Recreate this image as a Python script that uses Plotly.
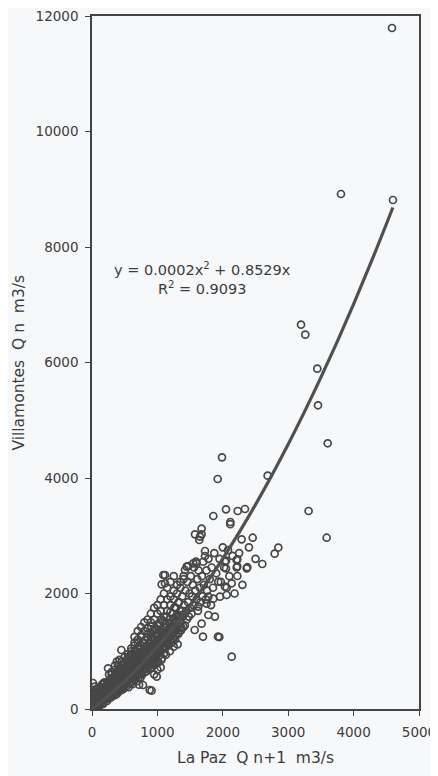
import plotly.graph_objects as go

# La Paz Q n+1 (m3/s) and Villamontes Q n (m3/s)
# sparse / scattered points
lapaz_q = [
    5, 12, 20, 25, 30, 35, 40, 45, 50, 55, 60, 65, 70, 75, 80, 85, 90, 95, 100, 105,
    110, 115, 120, 125, 130, 135, 140, 145, 150, 155, 160, 165, 170, 175, 180, 185, 190, 195, 200,
    15, 41, 60, 10, 20, 8, 30, 50, 70, 90, 110, 130, 150, 170, 190,
    205, 210, 220, 225, 230, 240, 245, 250, 255, 260, 270, 275, 280, 290, 295, 300, 305, 310,
    320, 325, 330, 340, 345, 350, 355, 360, 370, 375, 380, 390, 395, 400, 405, 410, 420, 425,
    430, 440, 445, 450, 455, 460, 470, 475, 480, 490, 495, 500, 245, 300, 350, 420, 449, 380,
    260, 250, 320, 380, 430, 480,
    505, 510, 520, 525, 530, 540, 545, 550, 555, 560, 570, 575, 580, 590, 595, 600, 605, 610,
    620, 625, 630, 640, 645, 650, 655, 660, 670, 675, 680, 690, 695, 700, 705, 710, 720, 725,
    730, 740, 745, 750, 755, 760, 770, 775, 780, 780, 790, 795, 800, 754, 650, 600, 700, 560,
    620, 680, 740, 720,
    805, 810, 820, 825, 830, 840, 845, 850, 855, 860, 870, 875, 880, 882, 890, 895, 900, 905,
    907, 910, 911, 920, 925, 930, 940, 945, 950, 955, 960, 970, 975, 980, 990, 995, 1000, 1005,
    1010, 1020, 1025, 1030, 1040, 1045, 1050, 1060, 1065, 1070, 1080, 1085, 1090, 1100, 1100,
    950, 1000, 1050, 990,
    1116, 1065, 1110, 1120, 1130, 1140, 1150, 1160, 1170, 1180, 1190, 1200, 1210, 1220, 1230,
    1240, 1250, 1260, 1270, 1280, 1290, 1300, 1310, 1320, 1330, 1340, 1350, 1360, 1370, 1380,
    1390, 1400, 1410, 1420, 1422, 1430, 1440, 1450, 1460, 1470, 1473, 1480, 1490, 1500,
    1091, 1448, 1549, 1600, 1116,
    1510, 1520, 1530, 1540, 1550, 1560, 1570, 1575, 1580, 1590, 1600, 1610, 1620, 1630, 1641,
    1650, 1660, 1676, 1676, 1680, 1690, 1697, 1700, 1710, 1728, 1728, 1740, 1750, 1760, 1780,
    1800, 1820, 1830, 1855, 1850, 1870, 1880, 1900, 1922, 1927, 1947, 1950, 1970, 1988, 2000,
    1651, 1625, 1752, 1779, 1676, 1779, 1855, 1957, 2059, 1931, 2034, 2136,
    2020, 2049, 2049, 2049, 2060, 2080, 2100, 2115, 2115, 2136, 2150, 2180, 2222, 2222, 2222,
    2228, 2250, 2288, 2300, 2339, 2375, 2400, 2457, 2500, 2604, 2686, 2793, 2849, 2034, 2212,
    2212, 2365,
    3196, 3262, 3312, 3445, 3456, 3588, 3604, 3807, 4587, 4602,
]
villamontes_q = [
    10, 30, 15, 60, 40, 90, 20, 110, 70, 150, 45, 120, 95, 180, 60, 140, 200, 110, 85, 170,
    240, 130, 100, 210, 160, 280, 120, 230, 190, 300, 150, 260, 210, 330, 170, 250, 380, 220, 290,
    450, 386, 330, 200, 250, 120, 180, 260, 300, 350, 320, 380, 420, 440, 460,
    180, 330, 260, 400, 220, 350, 300, 450, 240, 390, 320, 500, 270, 420, 360, 310, 520, 250,
    460, 380, 290, 560, 410, 340, 480, 300, 600, 450, 380, 520, 330, 430, 650, 360, 560, 480,
    400, 700, 520, 420, 610, 370, 540, 760, 460, 640, 410, 560, 705, 640, 750, 850, 1022, 820,
    600, 180, 230, 260, 320, 350,
    720, 480, 620, 820, 440, 560, 700, 900, 500, 650, 780, 470, 600, 860, 700, 540, 950, 640,
    760, 520, 880, 700, 1000, 600, 820, 560, 740, 920, 650, 1050, 800, 580, 700, 880, 980, 650,
    760, 1100, 850, 620, 720, 940, 1150, 800, 416, 680, 1020, 880, 740, 1281, 1150, 1050, 1200, 380,
    430, 480, 540, 420,
    1000, 640, 1200, 860, 760, 1080, 920, 700, 1300, 820, 980, 1150, 760, 329, 1050, 880, 1250, 960,
    1425, 720, 317, 1100, 830, 1350, 1000, 900, 1200, 780, 1080, 1400, 950, 860, 1150, 1300, 1020, 800,
    1250, 1480, 920, 1100, 1350, 980, 1200, 850, 1550, 1050, 1300, 1150, 1420, 960, 1600,
    600, 680, 720, 560,
    2320, 2159, 1250, 1050, 1480, 1150, 1700, 1350, 1100, 1550, 1250, 1800, 1400, 1150, 1650,
    1300, 1900, 1500, 1200, 1750, 1400, 2000, 1600, 1300, 1850, 1500, 2100, 1700, 1400, 1950,
    1600, 2250, 1800, 1450, 2407, 2050, 1700, 1550, 2200, 1850, 2476, 1600, 2000, 1750,
    2320, 2464, 2522, 2522, 2177,
    2300, 1650, 1950, 2150, 1800, 2450, 1368, 3024, 2050, 2551, 1900, 2250, 1700, 2400, 2926,
    2100, 1850, 3123, 3024, 2300, 1950, 1252, 2550, 2150, 2736, 2649, 1900, 2400, 2050, 2600,
    2250, 1800, 2450, 3342, 2100, 2700, 1600, 2350, 3983, 1252, 1246, 2600, 2200, 4358, 2800,
    2984, 1772, 1825, 1628, 1478, 1945, 1911, 1945, 1974, 2205, 2118, 2177,
    2450, 3457, 2568, 2436, 2100, 2750, 2300, 3238, 3200, 906, 2650, 2000, 2592, 2470, 2303,
    3429, 2700, 2938, 2150, 3463, 2455, 2800, 2966, 2600, 2511, 4040, 2690, 2796, 2551, 2580,
    2450, 2436,
    6655, 6482, 3429, 5893, 5259, 2966, 4601, 8918, 11792, 8814,
]

# dense core of the cloud (x < 1400), read as closely as the dark mass allows
core_lapaz_q = [
    20, 40, 60, 80, 100, 120, 140, 160, 180, 200, 220, 240, 260, 280, 300, 320, 340, 360, 380, 400,
    420, 440, 460, 480, 500, 520, 540, 560, 580, 600, 620, 640, 660, 680, 700, 720, 740, 760, 780, 800,
    820, 840, 860, 880, 900, 920, 940, 960, 980, 1000, 1020, 1040, 1060, 1080, 1100, 1120, 1140, 1160,
    1180, 1200, 1220, 1240, 1260, 1280, 1300, 1320, 1340, 1360, 1380, 1400,
    30, 55, 85, 115, 145, 175, 205, 235, 265, 295, 325, 355, 385, 415, 445, 475, 505, 535, 565, 595,
    625, 655, 685, 715, 745, 775, 805, 835, 865, 895, 925, 955, 985, 1015, 1045, 1075, 1105, 1135,
    1165, 1195, 1225, 1255, 1285, 1315, 1345, 1375,
    50, 110, 170, 230, 290, 350, 410, 470, 530, 590, 650, 710, 770, 830, 890, 950, 1010, 1070, 1130,
    1190, 1250, 1310,
    60, 120, 180, 240, 300, 360, 420, 480, 540, 600, 660, 720, 780, 840, 900, 960, 1020, 1080, 1140,
    1200, 1260, 1320,
    10, 25, 35, 65, 95, 125, 155, 185, 215, 245, 275, 305, 335, 365, 395, 425, 455, 485, 515, 545,
    575, 605, 635, 665, 695, 725, 755, 785, 815, 845, 875, 905, 935, 965, 995, 1025, 1055, 1085, 1115,
    1145, 1175, 1205, 1235,
]
core_villamontes_q = [
    40, 70, 30, 110, 140, 60, 170, 100, 220, 160, 300, 200, 330, 230, 380, 280, 420, 330, 470, 360,
    520, 410, 570, 430, 600, 470, 650, 520, 700, 560, 740, 600, 790, 640, 840, 680, 880, 720, 930, 760,
    980, 800, 1030, 840, 1080, 880, 1120, 920, 1170, 960, 1210, 1000, 1260, 1040, 1300, 1090, 1340, 1130,
    1390, 1180, 1430, 1220, 1480, 1270, 1530, 1320, 1580, 1360, 1630, 1420,
    120, 90, 60, 180, 130, 260, 240, 360, 280, 440, 350, 520, 400, 580, 480, 650, 520, 720, 590, 800,
    650, 860, 720, 930, 780, 1000, 850, 1060, 900, 1130, 970, 1190, 1030, 1270, 1100, 1340, 1160, 1410,
    1230, 1480, 1290, 1560, 1360, 1620, 1430, 1700,
    20, 50, 90, 140, 200, 240, 300, 340, 400, 440, 500, 540, 600, 650, 700, 760, 820, 880, 940,
    1000, 1080, 1120,
    250, 300, 380, 470, 540, 620, 700, 780, 860, 930, 1000, 1080, 1160, 1240, 1320, 1380, 1440, 1520, 1600,
    1680, 1760, 1840,
    30, 25, 55, 75, 100, 130, 160, 190, 230, 270, 300, 330, 370, 400, 440, 470, 500, 540, 570, 610,
    640, 680, 710, 750, 780, 820, 850, 890, 920, 960, 990, 1030, 1060, 1100, 1130, 1170, 1200, 1240, 1270,
    1310, 1340, 1380, 1420,
]

# upper spread of the cloud, above the trend (x 300-1400)
upper_lapaz_q = [
    300, 350, 400, 450, 500, 550, 600, 650, 700, 750, 800, 850, 900, 950, 1000, 1050, 1100, 1150,
    1200, 1250, 1300, 1350, 1400, 1000, 1050, 1100, 1150, 1200, 1250, 900, 950, 850, 800, 700, 750, 650,
]
upper_villamontes_q = [
    600, 680, 750, 820, 900, 950, 1000, 1100, 1150, 1250, 1350, 1400, 1500, 1550, 1650, 1700, 1800, 1900,
    1950, 2050, 2150, 2200, 2300, 1800, 1900, 2000, 2100, 2200, 2300, 1650, 1750, 1550, 1500, 1350, 1420, 1250,
]

# Polynomial trend shown on the chart (through the origin): y = a*x^2 + b*x
trend_a = 0.000225
trend_b = 0.8529
trend_x = [0, 250, 500, 750, 1000, 1250, 1500, 1750, 2000, 2250, 2500, 2750,
           3000, 3250, 3500, 3750, 4000, 4250, 4500, 4600]
trend_y = [trend_a * x * x + trend_b * x for x in trend_x]

x_ticks = [0, 1000, 2000, 3000, 4000, 5000]
y_ticks = [0, 2000, 4000, 6000, 8000, 10000, 12000]

eq_text = "y = 0.0002x<sup>2</sup> + 0.8529x<br>R<sup>2</sup> = 0.9093"
x_title = "La Paz\u00a0\u00a0Q n+1\u00a0\u00a0m3/s"
y_title = "Villamontes\u00a0\u00a0Q n\u00a0\u00a0m3/s"

ink = "#3c3c3c"
paper = "#f7f8fa"
font_family = "DejaVu Sans, Verdana, sans-serif"
marker_col = "#474747"

fig = go.Figure()
fig.add_trace(go.Scatter(
    x=core_lapaz_q + upper_lapaz_q + lapaz_q,
    y=core_villamontes_q + upper_villamontes_q + villamontes_q,
    mode="markers",
    marker=dict(symbol="circle-open", size=7, color=marker_col, line=dict(width=1.7, color=marker_col)),
    showlegend=False, hoverinfo="x+y",
))
fig.add_trace(go.Scatter(
    x=trend_x, y=trend_y, mode="lines", line=dict(color="#505050", width=3.2, shape="spline"),
    showlegend=False, hoverinfo="skip",
))

fig.add_annotation(
    x=1697, y=7450, xref="x", yref="y", text=eq_text, showarrow=False,
    font=dict(size=14.5, color=ink, family=font_family), align="center",
)
# axis titles (positions in plot-area fractions)
fig.add_annotation(
    x=0.5, y=-0.07, xref="x domain", yref="y domain", yanchor="middle", text=x_title,
    showarrow=False, font=dict(size=15.5, color=ink, family=font_family),
)
fig.add_annotation(
    x=-0.226, y=0.5, xref="x domain", yref="y domain", xanchor="center", yanchor="middle",
    text=y_title, textangle=-90,
    showarrow=False, font=dict(size=15.5, color=ink, family=font_family),
)

axis_common = dict(
    showgrid=False, zeroline=False, showline=True, linecolor="#444444", linewidth=1.6,
    mirror=True, ticks="outside", ticklen=5, tickcolor="#444444", tickwidth=1,
    tickfont=dict(size=13.5, color=ink, family=font_family), automargin=False,
    ticklabeloverflow="allow",
)
fig.update_xaxes(range=[0, 5000], tickvals=x_ticks, ticktext=[str(v) for v in x_ticks],
                 ticklabelstandoff=5, **axis_common)
fig.update_yaxes(range=[0, 12000], tickvals=y_ticks, ticktext=[str(v) for v in y_ticks],
                 ticklabelstandoff=4, **axis_common)
# the page adds an 8px body margin, so the figure is sized to sit inside the window
fig.update_layout(
    width=430, height=768, autosize=False,
    margin=dict(l=84, r=19, t=8, b=67),
    paper_bgcolor=paper, plot_bgcolor=paper,
    font=dict(family=font_family, color=ink),
)
fig.write_html("out.html", config={"displayModeBar": False})
